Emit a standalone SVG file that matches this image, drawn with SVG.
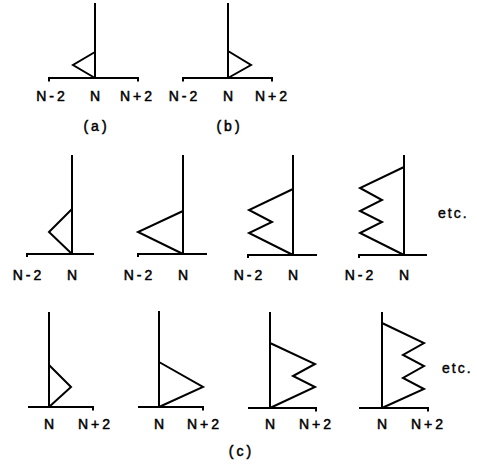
<svg xmlns="http://www.w3.org/2000/svg" width="477" height="470" viewBox="0 0 477 470">
<style>
.l{fill:none;stroke:#000;stroke-width:2;stroke-linejoin:miter;stroke-linecap:butt}
.t{font-family:"Liberation Sans",Arial,sans-serif;font-size:14px;fill:#000;stroke:#000;stroke-width:0.5;text-anchor:middle;letter-spacing:3px}
.e{font-family:"Liberation Sans",Arial,sans-serif;font-size:14px;fill:#000;stroke:#000;stroke-width:0.4;letter-spacing:2px}
</style>
<rect width="477" height="470" fill="#fff"/>
<g id="panel-a">
<path class="l" d="M95,3V78M49,81.5V78H138V81.5M95,52L73,65L95,78"/>
<text class="t" x="52" y="100.5">N-2</text><text class="t" x="96.5" y="100.5">N</text><text class="t" x="137.5" y="100.5">N+2</text>
<text class="t" x="96.5" y="131">(a)</text>
</g>
<g id="panel-b">
<path class="l" d="M228,3V78M183,81.5V78H272V81.5M228,51L251,65L228,78"/>
<text class="t" x="184.5" y="100.5">N-2</text><text class="t" x="229.5" y="100.5">N</text><text class="t" x="272.5" y="100.5">N+2</text>
<text class="t" x="229.5" y="131">(b)</text>
</g>
<g id="c-left-1">
<path class="l" d="M72,155V254M27,257V254H94M72,209L49,232L72,254"/>
<text class="t" x="28.5" y="280">N-2</text><text class="t" x="73.5" y="280">N</text>
</g>
<g id="c-left-2">
<path class="l" d="M183,155V254M138,257V254H207M183,211L138,232L183,254"/>
<text class="t" x="139.5" y="280">N-2</text><text class="t" x="184.5" y="280">N</text>
</g>
<g id="c-left-3">
<path class="l" d="M293,155V255M248,258V255H317M293,189L249,210L272,222L249,233L293,255"/>
<text class="t" x="249.5" y="280">N-2</text><text class="t" x="294.5" y="280">N</text>
</g>
<g id="c-left-4">
<path class="l" d="M404,155V255M359,258V255H427M404,167L360,188L382,200L360,211L382,222L360,233L404,255"/>
<text class="t" x="360.5" y="280">N-2</text><text class="t" x="405.5" y="280">N</text>
<text class="e" x="438" y="218">etc.</text>
</g>
<g id="c-right-1">
<path class="l" d="M49,312V407M28,407H93V410.5M49,365L71,387L49,407"/>
<text class="t" x="50.5" y="429">N</text><text class="t" x="95.5" y="429">N+2</text>
</g>
<g id="c-right-2">
<path class="l" d="M159,311V407M138,407H203V410.5M159,362L203,387L159,407"/>
<text class="t" x="160.5" y="429">N</text><text class="t" x="204.5" y="429">N+2</text>
</g>
<g id="c-right-3">
<path class="l" d="M270,312V408M248,408H316V411.5M270,343L315,364L293,376L315,387L270,408"/>
<text class="t" x="271.5" y="429">N</text><text class="t" x="316.5" y="429">N+2</text>
</g>
<g id="c-right-4">
<path class="l" d="M382,312V408M359,408H428V411.5M382,323L424,343L403,355L424,366L403,378L424,389L382,408"/>
<text class="t" x="383.5" y="429">N</text><text class="t" x="428.5" y="429">N+2</text>
<text class="e" x="442" y="373">etc.</text>
</g>
<text class="t" x="241.5" y="456">(c)</text>
</svg>
